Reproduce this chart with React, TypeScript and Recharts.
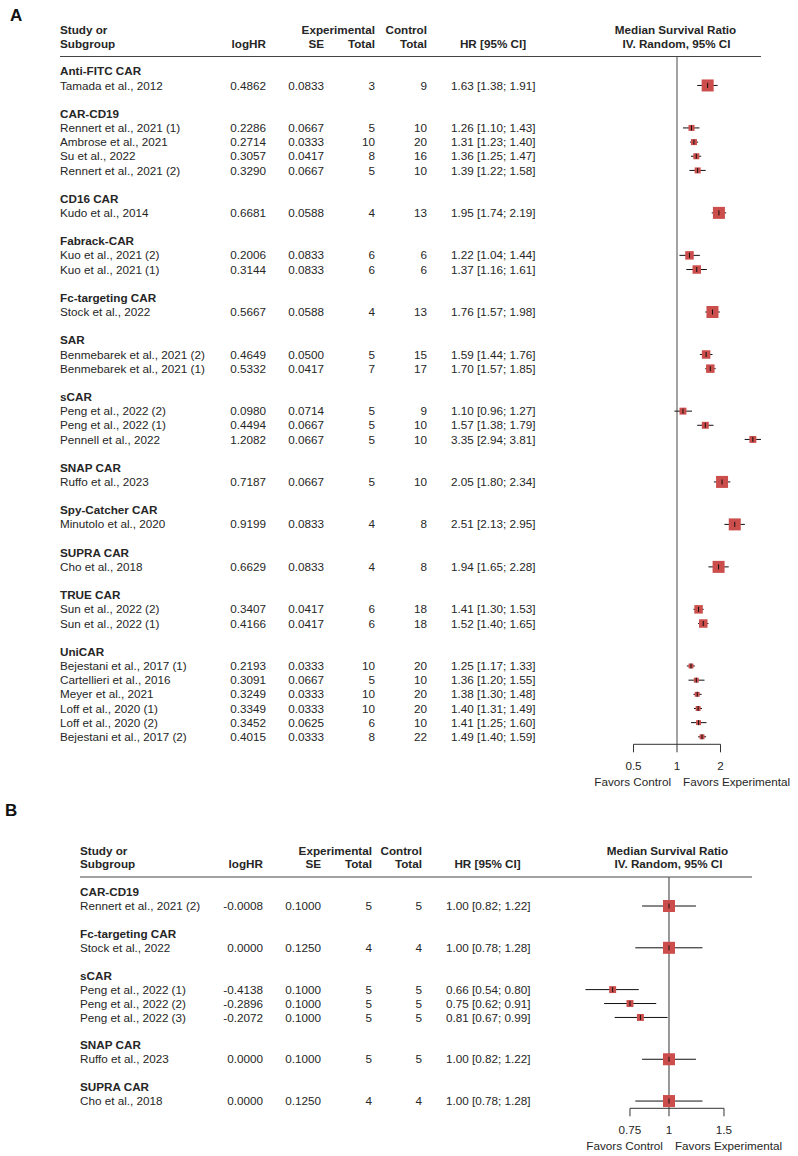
import React from "react";
import { ScatterChart, Scatter, XAxis, YAxis, ReferenceLine, ErrorBar } from "recharts";

const FONT = '"Liberation Sans", Arial, Helvetica, sans-serif';
const INK = "#262626";
const SQUARE = "#cc4e4c";
const FS = 11.7;

// ---- Panel A data ----
const groupsA = [
  "Anti-FITC CAR", "CAR-CD19", "CD16 CAR", "Fabrack-CAR", "Fc-targeting CAR", "SAR",
  "sCAR", "SNAP CAR", "Spy-Catcher CAR", "SUPRA CAR", "TRUE CAR", "UniCAR",
];
const groupOfA = [0, 1, 1, 1, 1, 2, 3, 3, 4, 5, 5, 6, 6, 6, 7, 8, 9, 10, 10, 11, 11, 11, 11, 11, 11];
const studiesA = [
  "Tamada et al., 2012",
  "Rennert et al., 2021 (1)", "Ambrose et al., 2021", "Su et al., 2022", "Rennert et al., 2021 (2)",
  "Kudo et al., 2014",
  "Kuo et al., 2021 (2)", "Kuo et al., 2021 (1)",
  "Stock et al., 2022",
  "Benmebarek et al., 2021 (2)", "Benmebarek et al., 2021 (1)",
  "Peng et al., 2022 (2)", "Peng et al., 2022 (1)", "Pennell et al., 2022",
  "Ruffo et al., 2023",
  "Minutolo et al., 2020",
  "Cho et al., 2018",
  "Sun et al., 2022 (2)", "Sun et al., 2022 (1)",
  "Bejestani et al., 2017 (1)", "Cartellieri et al., 2016", "Meyer et al., 2021",
  "Loff et al., 2020 (1)", "Loff et al., 2020 (2)", "Bejestani et al., 2017 (2)",
];
const logHRA = [
  0.4862, 0.2286, 0.2714, 0.3057, 0.329, 0.6681, 0.2006, 0.3144, 0.5667, 0.4649, 0.5332,
  0.098, 0.4494, 1.2082, 0.7187, 0.9199, 0.6629, 0.3407, 0.4166, 0.2193, 0.3091, 0.3249,
  0.3349, 0.3452, 0.4015,
];
const seA = [
  0.0833, 0.0667, 0.0333, 0.0417, 0.0667, 0.0588, 0.0833, 0.0833, 0.0588, 0.05, 0.0417,
  0.0714, 0.0667, 0.0667, 0.0667, 0.0833, 0.0833, 0.0417, 0.0417, 0.0333, 0.0667, 0.0333,
  0.0333, 0.0625, 0.0333,
];
const expA = [3, 5, 10, 8, 5, 4, 6, 6, 4, 5, 7, 5, 5, 5, 5, 4, 4, 6, 6, 10, 5, 10, 10, 6, 8];
const ctrlA = [9, 10, 20, 16, 10, 13, 6, 6, 13, 15, 17, 9, 10, 10, 10, 8, 8, 18, 18, 20, 10, 20, 20, 10, 22];
const hrA = [
  1.63, 1.26, 1.31, 1.36, 1.39, 1.95, 1.22, 1.37, 1.76, 1.59, 1.7, 1.1, 1.57, 3.35, 2.05,
  2.51, 1.94, 1.41, 1.52, 1.25, 1.36, 1.38, 1.4, 1.41, 1.49,
];
const lowerA = [
  1.38, 1.1, 1.23, 1.25, 1.22, 1.74, 1.04, 1.16, 1.57, 1.44, 1.57, 0.96, 1.38, 2.94, 1.8,
  2.13, 1.65, 1.3, 1.4, 1.17, 1.2, 1.3, 1.31, 1.25, 1.4,
];
const upperA = [
  1.91, 1.43, 1.4, 1.47, 1.58, 2.19, 1.44, 1.61, 1.98, 1.76, 1.85, 1.27, 1.79, 3.81, 2.34,
  2.95, 2.28, 1.53, 1.65, 1.33, 1.55, 1.48, 1.49, 1.6, 1.59,
];
const ticksA = [0.5, 1, 2];

// ---- Panel B data ----
const groupsB = ["CAR-CD19", "Fc-targeting CAR", "sCAR", "SNAP CAR", "SUPRA CAR"];
const groupOfB = [0, 1, 2, 2, 2, 3, 4];
const studiesB = [
  "Rennert et al., 2021 (2)", "Stock et al., 2022", "Peng et al., 2022 (1)",
  "Peng et al., 2022 (2)", "Peng et al., 2022 (3)", "Ruffo et al., 2023", "Cho et al., 2018",
];
const logHRB = [-0.0008, 0.0, -0.4138, -0.2896, -0.2072, 0.0, 0.0];
const seB = [0.1, 0.125, 0.1, 0.1, 0.1, 0.1, 0.125];
const expB = [5, 4, 5, 5, 5, 5, 4];
const ctrlB = [5, 4, 5, 5, 5, 5, 4];
const hrB = [1.0, 1.0, 0.66, 0.75, 0.81, 1.0, 1.0];
const lowerB = [0.82, 0.78, 0.54, 0.62, 0.67, 0.82, 0.78];
const upperB = [1.22, 1.28, 0.8, 0.91, 0.99, 1.22, 1.28];
const ticksB = [0.75, 1, 1.5];

type Row = { row: number; kind: "group" | "study"; label: string; i: number };

function buildRows(groups: string[], groupOf: number[], studies: string[]) {
  const rows: Row[] = [];
  let r = 0;
  groups.forEach((g, gi) => {
    if (gi > 0) r += 1; // blank spacer
    rows.push({ row: r++, kind: "group", label: g, i: -1 });
    studies.forEach((s, i) => {
      if (groupOf[i] === gi) rows.push({ row: r++, kind: "study", label: s, i });
    });
  });
  return rows;
}

function buildPoints(rows: Row[], groupOf: number[], hr: number[], lo: number[], hi: number[]) {
  return rows
    .filter((r) => r.kind === "study")
    .map((r) => {
      const n = groupOf.filter((g) => g === groupOf[r.i]).length;
      return {
        row: r.row,
        hr: hr[r.i],
        err: [hr[r.i] - lo[r.i], hi[r.i] - hr[r.i]],
        w: 1 / n,
      };
    });
}

const SquareShape = (props: any) => {
  const { cx, cy, payload } = props;
  const s = 12 * Math.sqrt(payload.w);
  return <rect x={cx - s / 2} y={cy - s / 2} width={s} height={s} fill={SQUARE} />;
};

const EstimateMark = (props: any) => {
  const { cx, cy } = props;
  return <line x1={cx} x2={cx} y1={cy - 2.5} y2={cy + 2.5} stroke="#111" strokeWidth={1} />;
};

type Cols = { study: number; logHR: number; se: number; exp: number; ctrl: number; hr: number };

function makeRowTick(rows: Row[], cols: Cols, d: {
  logHR: number[]; se: number[]; exp: number[]; ctrl: number[]; hr: number[]; lo: number[]; hi: number[];
}) {
  return (props: any) => {
    const { y, payload } = props;
    const r = rows.find((q) => q.row === payload.value);
    if (!r) return <g />;
    const t = { fontFamily: FONT, fontSize: FS, fill: INK, dy: "0.35em" } as any;
    if (r.kind === "group") {
      return (
        <g>
          <text x={cols.study} y={y} {...t} fontWeight="bold">{r.label}</text>
        </g>
      );
    }
    const i = r.i;
    return (
      <g>
        <text x={cols.study} y={y} {...t}>{r.label}</text>
        <text x={cols.logHR} y={y} {...t} textAnchor="end">{d.logHR[i].toFixed(4)}</text>
        <text x={cols.se} y={y} {...t} textAnchor="end">{d.se[i].toFixed(4)}</text>
        <text x={cols.exp} y={y} {...t} textAnchor="end">{d.exp[i]}</text>
        <text x={cols.ctrl} y={y} {...t} textAnchor="end">{d.ctrl[i]}</text>
        <text x={cols.hr} y={y} {...t}>
          {`${d.hr[i].toFixed(2)} [${d.lo[i].toFixed(2)}; ${d.hi[i].toFixed(2)}]`}
        </text>
      </g>
    );
  };
}

const XTick = (props: any) => {
  const { x, y, payload } = props;
  const t = { fontFamily: FONT, fontSize: FS, fill: INK } as any;
  return (
    <g>
      <text x={x} y={y + 15.7} textAnchor="middle" {...t}>{String(payload.value)}</text>
      {payload.value === 1 && (
        <>
          <text x={x - 6} y={y + 31.7} textAnchor="end" {...t}>Favors Control</text>
          <text x={x + 6} y={y + 31.7} textAnchor="start" {...t}>Favors Experimental</text>
        </>
      )}
    </g>
  );
};

type PanelProps = {
  top: number; height: number; marginTop: number; plotBottom: number;
  plotLeft: number; plotRight: number; xDomain: [number, number]; yDomain: [number, number];
  ticks: number[]; refStroke: string; refWidth: number;
  rows: Row[]; points: any[]; rowTick: (p: any) => any;
};

function ForestPanel(p: PanelProps) {
  const W = 798;
  return (
    <div style={{ position: "absolute", left: 0, top: p.top }}>
      <ScatterChart
        width={W}
        height={p.height}
        margin={{ top: p.marginTop, right: W - p.plotRight, bottom: 0, left: 0 }}
      >
        <XAxis
          type="number"
          dataKey="hr"
          scale="log"
          domain={p.xDomain}
          allowDataOverflow
          ticks={p.ticks}
          interval={0}
          axisLine={false}
          tickSize={8}
          tickLine={{ stroke: "#333", strokeWidth: 1 }}
          tick={XTick}
          height={p.height - p.plotBottom}
        />
        <YAxis
          type="number"
          dataKey="row"
          domain={p.yDomain}
          reversed
          allowDataOverflow
          ticks={p.rows.map((r) => r.row)}
          interval={0}
          width={p.plotLeft}
          axisLine={false}
          tickLine={false}
          tick={p.rowTick}
        />
        <ReferenceLine x={1} stroke={p.refStroke} strokeWidth={p.refWidth} ifOverflow="visible" />
        <ReferenceLine
          segment={[
            { x: p.ticks[0], y: p.yDomain[1] },
            { x: p.ticks[p.ticks.length - 1], y: p.yDomain[1] },
          ]}
          stroke="#333"
          strokeWidth={1}
          ifOverflow="visible"
        />
        <Scatter data={p.points} shape={SquareShape} isAnimationActive={false} />
        <Scatter data={p.points} shape={EstimateMark} isAnimationActive={false}>
          <ErrorBar dataKey="err" direction="x" width={0} stroke="#111" strokeWidth={1} isAnimationActive={false} />
        </Scatter>
      </ScatterChart>
    </div>
  );
}

const rowsA = buildRows(groupsA, groupOfA, studiesA);
const pointsA = buildPoints(rowsA, groupOfA, hrA, lowerA, upperA);
const rowTickA = makeRowTick(rowsA, { study: 60, logHR: 266, se: 324, exp: 375, ctrl: 427, hr: 451 }, {
  logHR: logHRA, se: seA, exp: expA, ctrl: ctrlA, hr: hrA, lo: lowerA, hi: upperA,
});

const rowsB = buildRows(groupsB, groupOfB, studiesB);
const pointsB = buildPoints(rowsB, groupOfB, hrB, lowerB, upperB);
const rowTickB = makeRowTick(rowsB, { study: 80, logHR: 263, se: 321, exp: 372, ctrl: 422, hr: 446 }, {
  logHR: logHRB, se: seB, exp: expB, ctrl: ctrlB, hr: hrB, lo: lowerB, hi: upperB,
});

function Header({ y, left, right, cols, ciCenter, plotCenter }: any) {
  const b = { fontFamily: FONT, fontSize: FS, fill: INK, fontWeight: "bold" } as any;
  const y1 = y;
  const y2 = y + 13.5;
  return (
    <g>
      <text x={left} y={y1} {...b}>Study or</text>
      <text x={left} y={y2} {...b}>Subgroup</text>
      <text x={cols.logHR} y={y2} textAnchor="end" {...b}>logHR</text>
      <text x={cols.exp} y={y1} textAnchor="end" {...b}>Experimental</text>
      <text x={cols.se} y={y2} textAnchor="end" {...b}>SE</text>
      <text x={cols.exp} y={y2} textAnchor="end" {...b}>Total</text>
      <text x={cols.ctrl} y={y1} textAnchor="end" {...b}>Control</text>
      <text x={cols.ctrl} y={y2} textAnchor="end" {...b}>Total</text>
      <text x={ciCenter} y={y2} textAnchor="middle" {...b}>HR [95% CI]</text>
      <text x={plotCenter} y={y1} textAnchor="middle" {...b}>Median Survival Ratio</text>
      <text x={plotCenter + 1} y={y2} textAnchor="middle" {...b}>IV. Random, 95% CI</text>
      <line x1={left} x2={right} y1={y2 + 9} y2={y2 + 9} stroke="#444" strokeWidth={1} />
    </g>
  );
}

export default function App() {
  return (
    <div style={{ position: "absolute", left: 0, top: 0, width: 798, height: 1156, background: "#fff" }}>
      <ForestPanel
        top={0} height={800} marginTop={56.5} plotBottom={744.3}
        plotLeft={590} plotRight={764} xDomain={[0.25, 4]} yDomain={[-1.045, 47.53]}
        ticks={ticksA} refStroke="#a3a3a3" refWidth={2}
        rows={rowsA} points={pointsA} rowTick={rowTickA}
      />
      <ForestPanel
        top={800} height={356} marginTop={77.3} plotBottom={308.3}
        plotLeft={575} plotRight={748.7} xDomain={[0.5, 1.8]} yDomain={[-1.06, 15.52]}
        ticks={ticksB} refStroke="#333" refWidth={1}
        rows={rowsB} points={pointsB} rowTick={rowTickB}
      />
      <svg width={798} height={1156} style={{ position: "absolute", left: 0, top: 0, pointerEvents: "none" }}>
        <text x={10} y={20.5} fontFamily={FONT} fontSize={17} fontWeight="bold" fill="#111">A</text>
        <text x={5} y={816} fontFamily={FONT} fontSize={17} fontWeight="bold" fill="#111">B</text>
        <Header y={34} left={60} right={761} cols={{ logHR: 266, se: 324, exp: 375, ctrl: 427 }} ciCenter={493} plotCenter={675.5} />
        <Header y={854.5} left={80} right={752} cols={{ logHR: 263, se: 321, exp: 372, ctrl: 422 }} ciCenter={487.5} plotCenter={667.5} />
      </svg>
    </div>
  );
}
